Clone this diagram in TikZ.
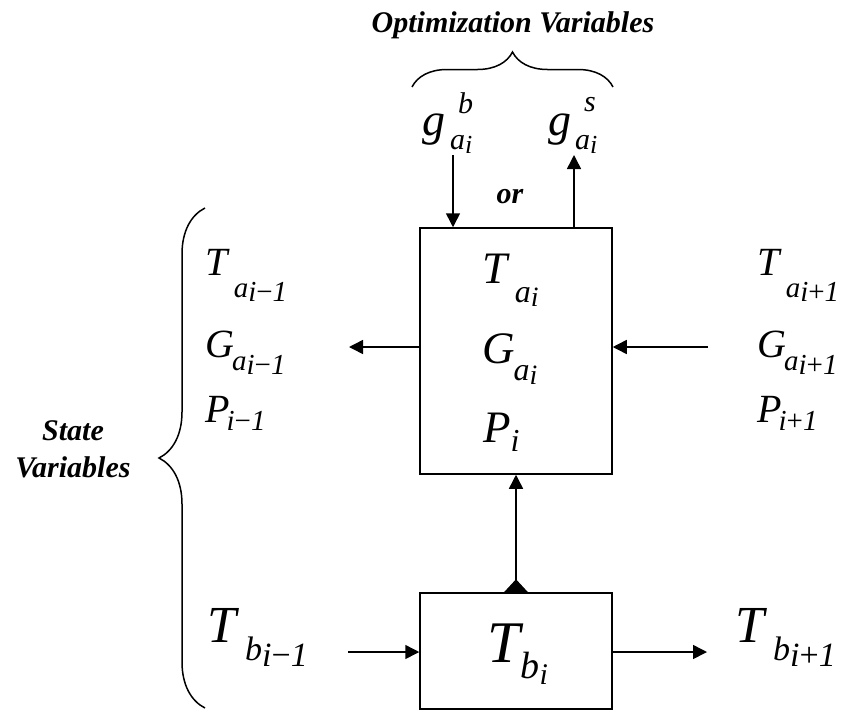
\documentclass[tikz,border=0pt]{standalone}
\usepackage{fontspec}
\setmainfont{Liberation Serif}
\usetikzlibrary{arrows.meta,decorations.pathreplacing}
\newcommand{\fs}[1]{\fontsize{#1pt}{#1pt}\selectfont}
\newcommand{\Sub}[5]{\textit{#1}\kern#2pt\raisebox{-#3pt}{\fs{#4}#5}}
\newcommand{\Low}[2]{\raisebox{-#1pt}{#2}}
\newcommand{\SupSub}[7]{\textit{#1}\kern#2pt\rlap{\kern#3pt\raisebox{#4pt}{\fs{30}\textit{#5}}}\raisebox{-#6pt}{\fs{30}#7}}
\begin{document}
\begin{tikzpicture}[x=1pt,y=-1pt,
  lbl/.style={inner sep=0pt,anchor=base west},
  boldlbl/.style={inner sep=0pt,anchor=base,font=\fs{30}\bfseries\itshape,align=center},
  box/.style={draw,line width=1.5pt,minimum width=192pt,inner sep=0pt},
  arr/.style={line width=1.5pt,-{Triangle[length=14pt,width=14pt]}},
  brc/.style={line width=1.5pt,decorate}]
\useasboundingbox (0,0) rectangle (845,712);
% boxes
\node[box,minimum height=246pt] (ub) at (516,351) {};
\node[box,minimum height=116pt] (lb) at (516,651) {};
% titles
\node[boldlbl] (opt) at (513,32) {Optimization Variables};
\node[boldlbl] (or) at (510,203) {or};
\node[boldlbl] (st1) at (73,440) {State};
\node[boldlbl] (st2) at (73,477) {Variables};
% braces
\draw[brc,decoration={brace,amplitude=35pt}] (412,87) -- (613,87);
\draw[brc,decoration={brace,amplitude=46pt}] (205,708) -- (205,208);
% optimization variables
\node[lbl] (gb) at (422,135) {\fs{46}\SupSub{g}{5}{8}{22}{b}{14}{\textit{a}\Low{4}{\fs{26}\textit{i}}}};
\node[lbl] (gs) at (548,135) {\fs{46}\SupSub{g}{4}{9}{24}{s}{14}{\textit{a}\Low{4}{\fs{26}\textit{i}}}};
% left state variables
\node[lbl] (tl) at (205,275) {\fs{40}\Sub{T}{4}{22}{29}{\textit{a}\Low{4}{\textit{i}−\textit{1}}}};
\node[lbl] (gl) at (205,357) {\fs{40}\Sub{G}{-2}{13}{29}{\textit{a}\Low{4}{\textit{i}−\textit{1}}}};
\node[lbl] (pl) at (205,422) {\fs{40}\Sub{P}{-3}{8}{29}{\textit{i}−\textit{1}}};
% box state variables
\node[lbl] (tc) at (482,283) {\fs{45}\Sub{T}{5}{19}{32}{\textit{a}\Low{4}{\fs{28}\textit{i}}}};
\node[lbl] (gc) at (482,363) {\fs{45}\Sub{G}{-1}{17}{32}{\textit{a}\Low{4}{\fs{28}\textit{i}}}};
\node[lbl] (pc) at (483,442) {\fs{45}\Sub{P}{0}{9}{32}{\textit{i}}};
% right state variables
\node[lbl] (tr) at (757,275) {\fs{40}\Sub{T}{4}{22}{29}{\textit{a}\Low{4}{\textit{i}+\textit{1}}}};
\node[lbl] (gr) at (757,357) {\fs{40}\Sub{G}{-2}{13}{29}{\textit{a}\Low{4}{\textit{i}+\textit{1}}}};
\node[lbl] (pr) at (757,422) {\fs{40}\Sub{P}{-3}{8}{29}{\textit{i}+\textit{1}}};
% bottom row
\node[lbl] (tbl) at (207,642) {\fs{52}\Sub{T}{6}{18}{34}{\textit{b}\Low{6}{\textit{i}−\textit{1}}}};
\node[lbl] (tbr) at (735,642) {\fs{52}\Sub{T}{6}{18}{34}{\textit{b}\Low{6}{\textit{i}+\textit{1}}}};
\node[lbl] (tbc) at (487,662) {\fs{59}\Sub{T}{-3}{16}{38}{\textit{b}\Low{6}{\fs{30}\textit{i}}}};
% connector end points
\coordinate (gbend) at (453,155);
\coordinate (gsend) at (574,155);
\coordinate (lend) at (349,347);
\coordinate (rend) at (708,347);
\coordinate (blend) at (348,652);
\coordinate (brend) at (707,652);
% connectors
\draw[arr] (gbend) -- (gbend |- ub.north);
\draw[arr] (gsend |- ub.north) -- (gsend);
\draw[arr] (ub.west |- lend) -- (lend);
\draw[arr] (rend) -- (ub.east |- rend);
\draw[arr] (blend) -- (lb.west |- blend);
\draw[arr] (lb.east |- brend) -- (brend);
\draw[arr] (lb.north) -- (ub.south);
\fill ([xshift=-12pt]lb.north) -- ([xshift=12pt]lb.north) -- ([yshift=13pt]lb.north) -- cycle;
\end{tikzpicture}
\end{document}
